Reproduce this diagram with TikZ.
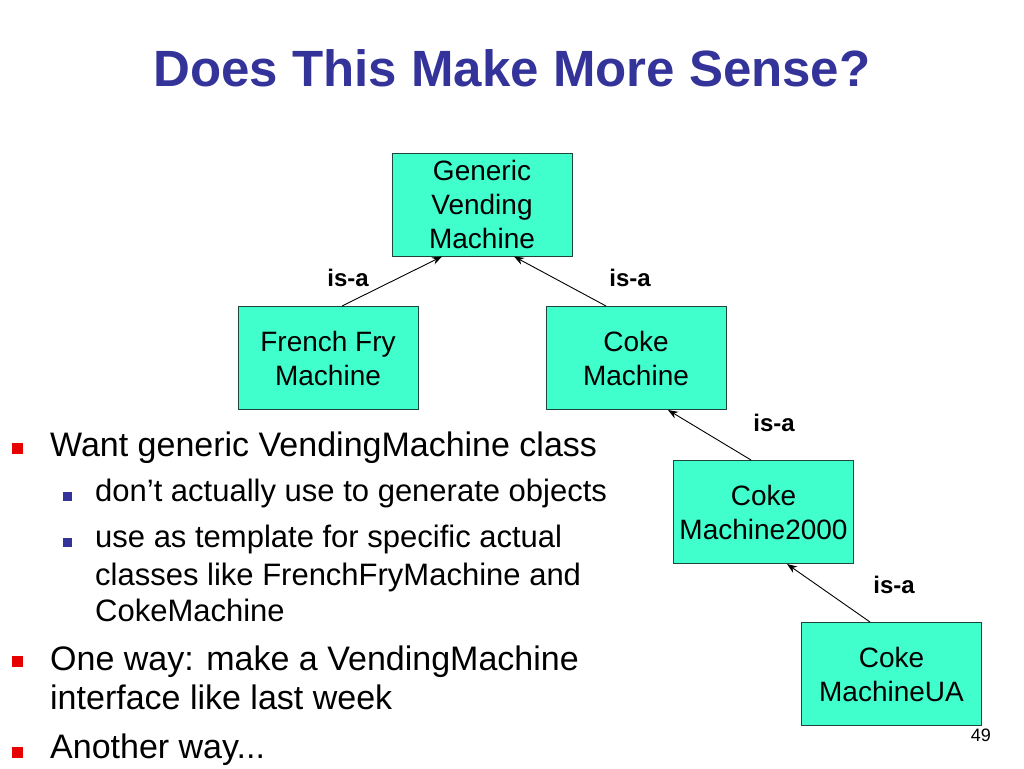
\documentclass[tikz,border=0pt]{standalone}
\usepackage{fontspec}
\setmainfont{Liberation Sans}
\usepackage{tikz}
\usetikzlibrary{arrows.meta}

\definecolor{titleblue}{RGB}{51,51,153}
\definecolor{boxfill}{RGB}{64,255,204}
\definecolor{boxline}{RGB}{30,70,60}
\definecolor{bulletred}{RGB}{230,0,0}
\definecolor{bulletblue}{RGB}{51,51,153}

\tikzset{
	classbox/.style={draw=boxline, line width=1pt, fill=boxfill, minimum width=180pt, minimum height=103pt, align=center, inner sep=0pt, font=\fontsize{28}{34}\selectfont},
	isa/.style={font=\fontsize{24}{28}\selectfont\bfseries},
	isaline/.style={line width=0.9pt, -{Stealth[length=10pt,width=7.5pt]}},
	mainitem/.style={anchor=base west, inner sep=0pt, font=\fontsize{34}{40}\selectfont},
	subitem/.style={anchor=base west, inner sep=0pt, font=\fontsize{31}{38}\selectfont}
}

\begin{document}
\begin{tikzpicture}[x=1pt,y=-1pt]
		\useasboundingbox (0,0) rectangle (1024,768);
		\fill[white] (0,0) rectangle (1024,768);
		\node (title) at (512,86) [anchor=base, text=titleblue, font=\fontsize{51}{60}\selectfont\bfseries] {Does This Make More Sense?};
		% class hierarchy
		\node (generic) at (482,204.5) [classbox] {Generic\\Vending\\Machine};
		\node (fryer) at (328,358) [classbox] {French Fry\\Machine};
		\node (coke) at (636,358) [classbox] {Coke\\Machine};
		\node (coke2k) at (763.5,512) [classbox] {Coke\\Machine2000};
		\node (cokeua) at (891.5,674) [classbox] {Coke\\MachineUA};
		\draw[isaline] ([xshift=14pt]fryer.north) -- ([xshift=-40pt]generic.south);
		\draw[isaline] ([xshift=-30pt]coke.north) -- ([xshift=32pt]generic.south);
		\draw[isaline] ([xshift=-12.5pt]coke2k.north) -- ([xshift=32pt]coke.south);
		\draw[isaline] ([xshift=-21.5pt]cokeua.north) -- ([xshift=23.5pt]coke2k.south);
		\node (isa1) at (348,278) [isa] {is-a};
		\node (isa2) at (630,278) [isa] {is-a};
		\node (isa3) at (774,423) [isa] {is-a};
		\node (isa4) at (894,585) [isa] {is-a};
		% bullet list
		\fill[bulletred] (12,443) rectangle (23,454);
		\fill[bulletblue] (63,492) rectangle (72,501);
		\fill[bulletblue] (63,538) rectangle (72,547);
		\fill[bulletred] (12,656) rectangle (23,667);
		\fill[bulletred] (12,747) rectangle (23,758);
		\node (item1) at (50,456) [mainitem] {Want generic VendingMachine class};
		\node (sub1) at (95,501) [subitem] {don’t actually use to generate objects};
		\node (sub2a) at (95,547) [subitem] {use as template for specific actual};
		\node (sub2b) at (95,585) [subitem] {classes like FrenchFryMachine and};
		\node (sub2c) at (95,621) [subitem] {CokeMachine};
		\node (item2a) at (50,670) [mainitem] {One way: make a VendingMachine};
		\node (item2b) at (50,709) [mainitem] {interface like last week};
		\node (item3) at (50,758) [mainitem] {Another way...};
		\node (pagenum) at (991,741) [anchor=base east, inner sep=0pt, font=\fontsize{18}{20}\selectfont] {49};
	\end{tikzpicture}
\end{document}
